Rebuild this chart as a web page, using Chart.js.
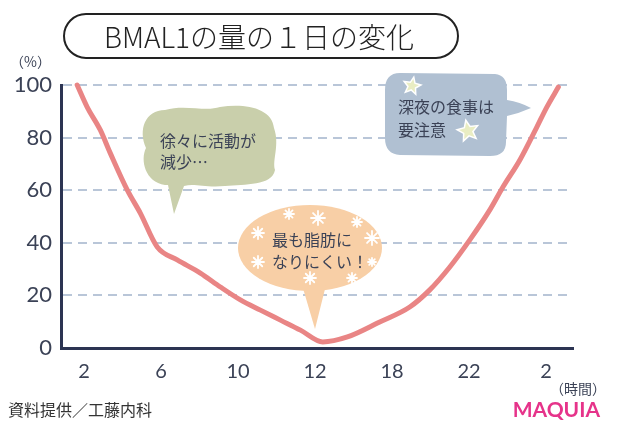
<!DOCTYPE html>
<html>
<head>
<meta charset="utf-8">
<script src="https://cdn.jsdelivr.net/npm/chart.js@4.4.0/dist/chart.umd.min.js"></script>
<style>
  html, body { margin: 0; padding: 0; background: #fff; }
  #wrap { width: 620px; height: 442px; position: relative; }
</style>
</head>
<body>
<div id="wrap"><canvas id="bmalChart" width="620" height="442"></canvas></div>
<script>
// hour labels along the bottom (evenly spaced in the picture)
const hourLabels = ['2', '6', '10', '12', '18', '22', '2'];
// points of the curve: position along the hour axis (label index) and level in %
const curvePos = [-0.09, 0.04, 0.21, 0.34, 0.56, 0.73, 0.95, 1.21, 1.51, 1.77, 2.03, 2.29, 2.55, 2.81, 3.10,
                  3.42, 3.84, 4.23, 4.49, 4.75, 5.01, 5.27, 5.44, 5.66, 5.88, 6.01, 6.16];
const curveLevel = [100, 91.6, 82.9, 74.1, 60.1, 51.3, 38.4, 33.5, 28.5, 23.2, 18.3, 14.4, 10.6, 6.8, 2.3,
                    4.2, 9.9, 15.6, 22.1, 30.8, 41.1, 52.5, 61.2, 71.5, 84.0, 91.6, 99.2];
const levelTicks = [0, 20, 40, 60, 80, 100];

const titleText = 'BMAL1の量の１日の変化';
const notes = [
  { lines: ['徐々に活動が', '減少…'], fill: '#c9cfab' },
  { lines: ['深夜の食事は', '要注意'], fill: '#b0c0d2' },
  { lines: ['最も脂肪に', 'なりにくい！'], fill: '#f8cfa6' }
];

const jpFont = '"Noto Sans CJK JP", "Noto Sans", sans-serif';
const numFont = 'Lato, "Noto Sans", sans-serif';
const inkColor = '#3b4256';

function star(ctx, cx, cy, r, rot) {
  ctx.beginPath();
  for (let i = 0; i < 10; i++) {
    const rr = i % 2 === 0 ? r : r * 0.45;
    const a = -Math.PI / 2 + rot + i * Math.PI / 5;
    ctx.lineTo(cx + rr * Math.cos(a), cy + rr * Math.sin(a));
  }
  ctx.closePath();
  ctx.fillStyle = '#e9edc3';
  ctx.fill();
  ctx.strokeStyle = '#ffffff';
  ctx.lineWidth = 1.5;
  ctx.stroke();
}

function sparkle(ctx, cx, cy, r) {
  ctx.strokeStyle = '#ffffff';
  ctx.lineWidth = 1.8;
  ctx.lineCap = 'round';
  ctx.beginPath();
  for (let i = 0; i < 4; i++) {
    const a = i * Math.PI / 4;
    ctx.moveTo(cx - r * Math.cos(a), cy - r * Math.sin(a));
    ctx.lineTo(cx + r * Math.cos(a), cy + r * Math.sin(a));
  }
  ctx.stroke();
}

const decorPlugin = {
  id: 'decor',
  beforeDatasetsDraw(chart) {
    const ctx = chart.ctx;
    ctx.save();

    // green cloud bubble
    ctx.fillStyle = notes[0].fill;
    ctx.beginPath();
    ctx.moveTo(165, 185);
    ctx.bezierCurveTo(145, 182, 140, 160, 146, 148);
    ctx.bezierCurveTo(138, 130, 145, 110, 165, 110);
    ctx.bezierCurveTo(185, 104, 205, 112, 220, 107);
    ctx.bezierCurveTo(245, 103, 272, 108, 274, 128);
    ctx.bezierCurveTo(280, 145, 272, 160, 275, 170);
    ctx.bezierCurveTo(272, 186, 245, 184, 225, 186);
    ctx.bezierCurveTo(205, 188, 195, 183, 184, 186);
    ctx.lineTo(174, 214);
    ctx.lineTo(168, 185);
    ctx.closePath();
    ctx.fill();

    // blue bubble
    ctx.fillStyle = notes[1].fill;
    ctx.beginPath();
    ctx.moveTo(400, 73);
    ctx.lineTo(495, 74);
    ctx.quadraticCurveTo(507, 75, 507, 90);
    ctx.lineTo(507, 100);
    ctx.quadraticCurveTo(520, 102, 531, 108);
    ctx.quadraticCurveTo(520, 113, 507, 116);
    ctx.lineTo(506, 142);
    ctx.quadraticCurveTo(506, 156, 490, 156);
    ctx.lineTo(400, 155);
    ctx.quadraticCurveTo(385, 154, 385, 138);
    ctx.lineTo(385, 90);
    ctx.quadraticCurveTo(385, 73, 400, 73);
    ctx.closePath();
    ctx.fill();
    star(ctx, 412, 86, 9, 0.2);
    star(ctx, 468, 131, 11, -0.2);

    // peach bubble
    ctx.fillStyle = notes[2].fill;
    ctx.beginPath();
    ctx.ellipse(310, 248, 72, 43, 0, 0, Math.PI * 2);
    ctx.fill();
    ctx.beginPath();
    ctx.moveTo(302, 285);
    ctx.lineTo(315, 329);
    ctx.lineTo(326, 285);
    ctx.closePath();
    ctx.fill();
    [[289, 214, 5], [318, 218, 7], [357, 222, 5], [258, 233, 6], [372, 238, 7],
     [258, 262, 6], [310, 278, 6], [352, 278, 5], [372, 262, 4]].forEach(s => sparkle(ctx, s[0], s[1], s[2]));

    // bubble texts
    ctx.fillStyle = inkColor;
    ctx.font = '16px ' + jpFont;
    ctx.textBaseline = 'middle';
    ctx.textAlign = 'left';
    ctx.fillText(notes[0].lines[0], 160, 141);
    ctx.fillText(notes[0].lines[1], 160, 162);
    ctx.fillText(notes[1].lines[0], 398, 107);
    ctx.fillText(notes[1].lines[1], 398, 130);
    ctx.fillText(notes[2].lines[0], 272, 240);
    ctx.fillText(notes[2].lines[1], 272, 262);
    ctx.restore();
  },
  afterDraw(chart) {
    const ctx = chart.ctx;
    ctx.save();
    // title pill
    ctx.strokeStyle = '#222';
    ctx.lineWidth = 2;
    ctx.beginPath();
    ctx.roundRect(64, 14, 394, 44, 22);
    ctx.stroke();
    ctx.fillStyle = '#222';
    ctx.font = '300 28px ' + jpFont;
    ctx.textAlign = 'center';
    ctx.textBaseline = 'middle';
    ctx.fillText(titleText, 259, 37);

    ctx.fillStyle = inkColor;
    ctx.font = '14px ' + jpFont;
    ctx.textAlign = 'left';
    ctx.fillText('（%）', 10, 62);
    ctx.fillText('（時間）', 550, 389);

    ctx.fillStyle = '#333';
    ctx.font = '16px ' + jpFont;
    ctx.fillText('資料提供／工藤内科', 8, 410);

    ctx.fillStyle = '#e6338a';
    ctx.font = 'bold 21px ' + numFont;
    ctx.textAlign = 'right';
    ctx.fillText('MAQUIA', 600, 410);
    ctx.restore();
  }
};

new Chart(document.getElementById('bmalChart'), {
  type: 'line',
  data: {
    datasets: [{
      data: curvePos.map((x, i) => ({ x: x, y: curveLevel[i] })),
      borderColor: '#e98585',
      borderWidth: 5,
      borderCapStyle: 'round',
      borderJoinStyle: 'round',
      pointRadius: 0,
      cubicInterpolationMode: 'monotone',
      clip: false
    }]
  },
  options: {
    responsive: false,
    animation: false,
    layout: { padding: { top: 85, right: 47, bottom: 0, left: 0 } },
    plugins: { legend: { display: false }, tooltip: { enabled: false } },
    scales: {
      x: {
        type: 'linear',
        min: -0.3,
        max: 6.35,
        afterBuildTicks: s => { s.ticks = hourLabels.map((_, i) => ({ value: i })); },
        afterFit: s => { s.height = 94; },
        ticks: {
          callback: v => hourLabels[v],
          color: inkColor,
          font: { family: numFont, size: 20 },
          padding: 12,
          maxRotation: 0
        },
        grid: { display: false, drawTicks: false },
        border: { display: true, color: '#2c3452', width: 3 }
      },
      y: {
        min: 0,
        max: 100,
        afterBuildTicks: s => { s.ticks = levelTicks.map(v => ({ value: v })); },
        afterFit: s => { s.width = 61; },
        ticks: {
          color: inkColor,
          font: { family: numFont, size: 22 },
          padding: 9
        },
        grid: { color: '#b9c6d8', lineWidth: 2, drawTicks: false },
        border: { display: true, color: '#2c3452', width: 3, dash: [9, 6] }
      }
    }
  },
  plugins: [decorPlugin]
});
</script>
</body>
</html>
